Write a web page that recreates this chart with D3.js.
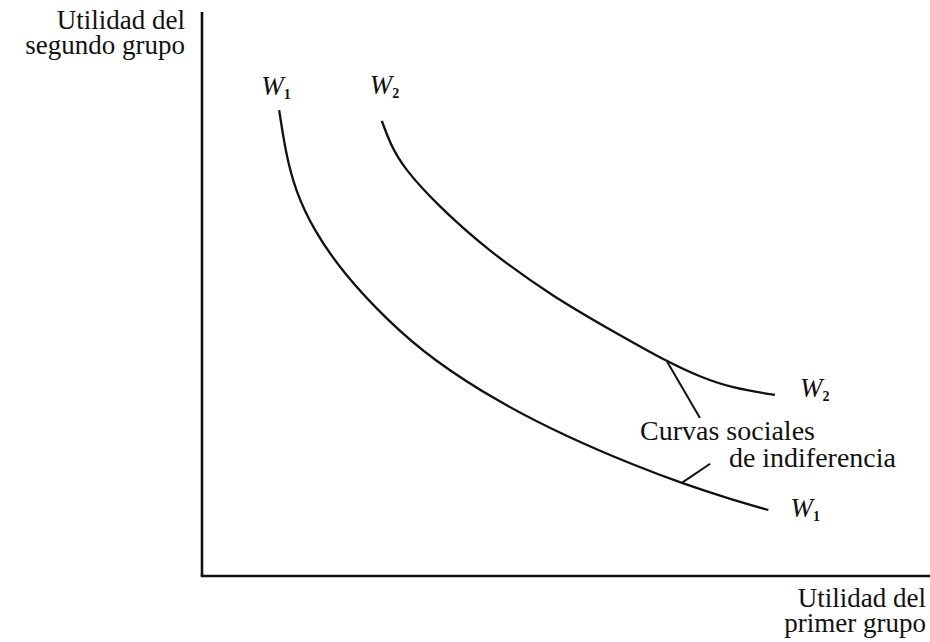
<!DOCTYPE html>
<html>
<head>
<meta charset="utf-8">
<script src="https://cdn.jsdelivr.net/npm/d3@7"></script>
<style>
  body { margin: 0; background: #fff; }
  text { font-family: "Liberation Serif", "Times New Roman", serif; fill: #111; }
</style>
</head>
<body>
<svg id="chart" width="930" height="642"></svg>
<script>
// indifference curves (utility units 0-100)
const w1X = [10.6, 11.5, 12.8, 15.3, 19.4, 25.4, 31.7, 40.9, 50.1, 59.2, 66.0, 72.9, 77.8];
const w1Y = [82.6, 75.0, 68.4, 61.4, 53.7, 45.4, 38.3, 30.7, 24.7, 19.7, 16.4, 13.5, 11.7];
const w2X = [24.7, 25.8, 27.6, 32.3, 39.2, 48.2, 57.4, 63.9, 68.4, 72.9, 78.7];
const w2Y = [80.7, 76.8, 72.5, 65.8, 57.8, 49.5, 42.7, 38.0, 35.3, 33.3, 32.1];
const curveNames = ["1", "2"];

const svg = d3.select("#chart");
const width = 930, height = 642;
const x0 = 202, y0 = 576, yTop = 12;

const x = d3.scaleLinear().domain([0, 100]).range([x0, width]);
const y = d3.scaleLinear().domain([0, 100]).range([y0, yTop]);

const toPts = (xs, ys) => xs.map((v, i) => [v, ys[i]]);
const curves = [toPts(w1X, w1Y), toPts(w2X, w2Y)];

// axes, drawn as plain lines like in the textbook
svg.append("line")
  .attr("x1", x(0)).attr("x2", x(0))
  .attr("y1", y(100)).attr("y2", y(0))
  .attr("stroke", "#111").attr("stroke-width", 2.6);
svg.append("line")
  .attr("x1", x(0) - 1.3).attr("x2", x(100))
  .attr("y1", y(0)).attr("y2", y(0))
  .attr("stroke", "#111").attr("stroke-width", 2.6);

const line = d3.line()
  .x(d => x(d[0]))
  .y(d => y(d[1]))
  .curve(d3.curveBasis);

svg.selectAll("path.curve")
  .data(curves)
  .enter()
  .append("path")
  .attr("class", "curve")
  .attr("d", line)
  .attr("fill", "none")
  .attr("stroke", "#111")
  .attr("stroke-width", 2.3);

// W labels: at the top of each curve and at its right end
function wLabel(px, py, sub) {
  const t = svg.append("text")
    .attr("x", px).attr("y", py)
    .style("font-size", "27px")
    .style("font-style", "italic");
  t.append("tspan").text("W");
  t.append("tspan")
    .attr("dy", 4)
    .style("font-size", "14px")
    .style("font-style", "normal")
    .style("font-weight", "bold")
    .text(sub);
}
const topOffsets = [[-18, -15], [-12, -27]];
const endOffsets = [[22, 7], [25, 2]];
curves.forEach((c, i) => {
  const first = c[0], last = c[c.length - 1];
  wLabel(x(first[0]) + topOffsets[i][0], y(first[1]) + topOffsets[i][1], curveNames[i]);
  wLabel(x(last[0]) + endOffsets[i][0], y(last[1]) + endOffsets[i][1], curveNames[i]);
});

// pointer lines to the annotation
const pointers = [[[63.9, 38.0], [68.4, 28.0]], [[65.9, 16.5], [69.8, 19.9]]];
svg.selectAll("line.pointer")
  .data(pointers)
  .enter()
  .append("line")
  .attr("class", "pointer")
  .attr("x1", d => x(d[0][0])).attr("y1", d => y(d[0][1]))
  .attr("x2", d => x(d[1][0])).attr("y2", d => y(d[1][1]))
  .attr("stroke", "#111").attr("stroke-width", 2);

svg.append("text").attr("x", 640).attr("y", 440)
  .style("font-size", "28px").text("Curvas sociales");
svg.append("text").attr("x", 896).attr("y", 467)
  .attr("text-anchor", "end")
  .style("font-size", "28px").text("de indiferencia");

// axis titles
const yTitle = svg.append("text").attr("text-anchor", "end").style("font-size", "27px");
yTitle.append("tspan").attr("x", 185).attr("y", 29).text("Utilidad del");
yTitle.append("tspan").attr("x", 185).attr("y", 54).text("segundo grupo");

const xTitle = svg.append("text").attr("text-anchor", "end").style("font-size", "27px");
xTitle.append("tspan").attr("x", 926).attr("y", 607).text("Utilidad del");
xTitle.append("tspan").attr("x", 926).attr("y", 632).text("primer grupo");
</script>
</body>
</html>
